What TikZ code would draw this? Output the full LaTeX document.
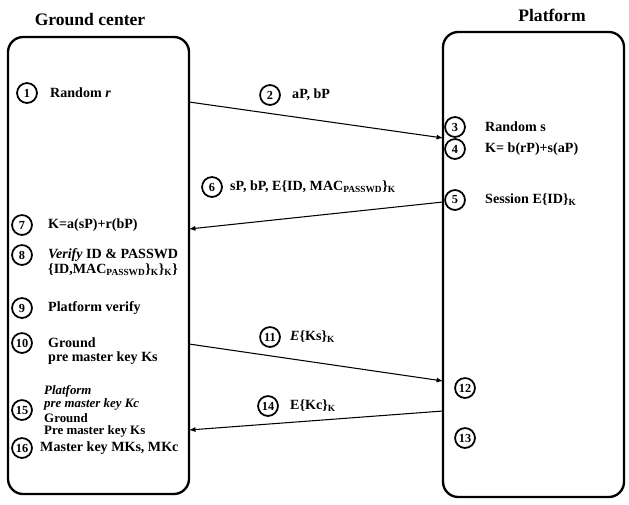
\documentclass[tikz,border=0pt]{standalone}
\usepackage{fontspec}
\setmainfont{Liberation Serif}
\usetikzlibrary{calc,arrows.meta}

\tikzset{
  lane/.style={draw, line width=2pt, rounded corners=13pt, inner sep=0pt},
  num/.style={draw, circle, line width=1.5pt, minimum size=17pt, inner sep=0pt,
              font=\bfseries\fontsize{10.5}{10.5}\selectfont},
  txt/.style={anchor=west, inner sep=0pt, align=left,
              font=\bfseries\fontsize{12}{14}\selectfont},
  tight/.style={txt, font=\bfseries\fontsize{11}{13}\selectfont},
  ttl/.style={inner sep=0pt, font=\bfseries\fontsize{15}{17}\selectfont},
  msg/.style={-latex, line width=0.9pt},
}

\begin{document}
\begin{tikzpicture}[x=0.03cm,y=-0.03cm]
  \useasboundingbox (0,0) rectangle (629,504);

  %% The two parties
  \node[lane, minimum width=5.43cm, minimum height=13.71cm] (ground)   at (98.5,265.5) {};
  \node[lane, minimum width=5.43cm, minimum height=13.95cm] (platform) at (533.5,264.5) {};
  \node[ttl] (GT) at (90,20)  {Ground center};
  \node[ttl] (PT) at (552,15) {Platform};

  %% Steps on the ground side
  \foreach \n/\x/\y in {1/27/93, 7/22/225, 8/22/255, 9/22/308, 10/22/343, 15/22/410, 16/22/448}
    \node[num] (c\n) at (\x,\y) {\n};
  \node[txt] (t1)  at (50,93)  {Random \textit{r}};
  \node[txt] (t7)  at (48,225) {K=a(sP)+r(bP)};
  \node[txt] (t8)  at (48,255) {\textit{Verify} ID \& PASSWD};
  \node[txt] (t8b) at (48,270) {\{ID,MAC\textsubscript{PASSWD}\}\textsubscript{K}\}\textsubscript{K}\}};
  \node[txt] (t9)  at (48,308) {Platform verify};
  \node[txt] (t10) at (48,343) {Ground};
  \node[txt] (t10b) at (48,358) {pre master key Ks};
  \node[tight] (t15a) at (44,391) {\textit{Platform}};
  \node[tight] (t15b) at (44,404.5) {\textit{pre master key Kc}};
  \node[tight] (t15c) at (44,418) {Ground};
  \node[tight] (t15d) at (44,431.5) {Pre master key Ks};
  \node[txt] (t16) at (40,448) {Master key MKs, MKc};

  %% Steps on the platform side
  \foreach \n/\x/\y in {3/455/127, 4/455/149, 5/455/200, 12/465/388, 13/465/438}
    \node[num] (c\n) at (\x,\y) {\n};
  \node[txt] (t3) at (485,127) {Random s};
  \node[txt] (t4) at (485,149) {K= b(rP)+s(aP)};
  \node[txt] (t5) at (485,200) {Session E\{ID\}\textsubscript{K}};

  %% Messages
  \foreach \n/\x/\y in {2/270/95, 6/212/187, 11/270/337, 14/268/406}
    \node[num] (c\n) at (\x,\y) {\n};
  \node[txt] (t2)  at (292,95)  {aP, bP};
  \node[txt] (t6)  at (230,187) {sP, bP, E\{ID, MAC\textsubscript{PASSWD}\}\textsubscript{K}};
  \node[txt] (t11) at (290,337) {\textit{E}\{Ks\}\textsubscript{K}};
  \node[txt] (t14) at (290,406) {E\{Kc\}\textsubscript{K}};

  \coordinate (g2)  at (189,102);  \coordinate (p2)  at (443,138);
  \coordinate (g6)  at (189,229);  \coordinate (p6)  at (443,202);
  \coordinate (g11) at (189,344);  \coordinate (p11) at (443,381);
  \coordinate (g14) at (189,430);  \coordinate (p14) at (443,411);
  \draw[msg] (g2)  -- (p2);
  \draw[msg] (p6)  -- (g6);
  \draw[msg] (g11) -- (p11);
  \draw[msg] (p14) -- (g14);
\end{tikzpicture}
\end{document}
